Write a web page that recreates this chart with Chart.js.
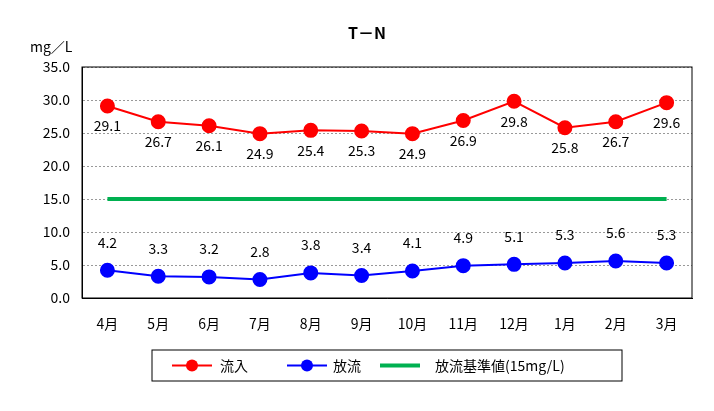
<!DOCTYPE html>
<html><head><meta charset="utf-8">
<script src="https://cdn.jsdelivr.net/npm/chart.js@4"></script>
<style>body{margin:0;background:#fff}#wrap{width:714px;height:411px}</style>
</head><body><div id="wrap"><canvas id="c"></canvas></div>
<script>
const months = ["4月","5月","6月","7月","8月","9月","10月","11月","12月","1月","2月","3月"];
const inflow = [29.1,26.7,26.1,24.9,25.4,25.3,24.9,26.9,29.8,25.8,26.7,29.6];
const outflow = [4.2,3.3,3.2,2.8,3.8,3.4,4.1,4.9,5.1,5.3,5.6,5.3];
const standard = months.map(() => 15);
const legendNames = ["流入","放流","放流基準値(15mg/L)"];
const FONT = "'Noto Sans CJK JP', sans-serif";

const decor = {
  id: "decor",
  afterDatasetsDraw(chart) {
    const ctx = chart.ctx;
    ctx.save();
    ctx.font = "14px " + FONT;
    ctx.fillStyle = "#000";
    ctx.textAlign = "center";
    ctx.textBaseline = "middle";
    chart.getDatasetMeta(0).data.forEach((p, i) => ctx.fillText(inflow[i].toFixed(1), p.x, p.y + 20));
    chart.getDatasetMeta(1).data.forEach((p, i) => ctx.fillText(outflow[i].toFixed(1), p.x, p.y - 28));
    // title and unit
    ctx.font = "bold 16px " + FONT;
    ctx.fillText("T－N", 367, 33);
    ctx.font = "14px " + FONT;
    ctx.textAlign = "left";
    ctx.fillText("mg／L", 30, 47);
    // legend
    const lx = 152, ly = 350, lw = 470, lh = 31;
    ctx.strokeStyle = "#000";
    ctx.lineWidth = 1;
    ctx.strokeRect(lx, ly, lw, lh);
    const items = [
      { x: 172, color: "#ff0000", dot: true, tx: 220 },
      { x: 287, color: "#0000ff", dot: true, tx: 333 },
      { x: 380, color: "#00b050", dot: false, tx: 435 }
    ];
    items.forEach((it, i) => {
      const cy = ly + lh / 2;
      ctx.strokeStyle = it.color;
      ctx.lineWidth = it.dot ? 2 : 4;
      ctx.beginPath(); ctx.moveTo(it.x, cy); ctx.lineTo(it.x + 40, cy); ctx.stroke();
      if (it.dot) {
        ctx.fillStyle = it.color;
        ctx.beginPath(); ctx.arc(it.x + 20, cy, 6, 0, Math.PI * 2); ctx.fill();
      }
      ctx.fillStyle = "#000";
      ctx.fillText(legendNames[i], it.tx, cy);
    });
    ctx.restore();
  }
};

new Chart(document.getElementById("c"), {
  type: "line",
  data: {
    labels: months,
    datasets: [
      { data: inflow, borderColor: "#ff0000", backgroundColor: "#ff0000", borderWidth: 2, pointRadius: 6.5, pointHoverRadius: 6.5 },
      { data: outflow, borderColor: "#0000ff", backgroundColor: "#0000ff", borderWidth: 2, pointRadius: 6.5, pointHoverRadius: 6.5 },
      { data: standard, borderColor: "#00b050", borderWidth: 4, pointRadius: 0 }
    ]
  },
  options: {
    responsive: true,
    maintainAspectRatio: false,
    animation: false,
    layout: { padding: { top: 67, right: 22, bottom: 73, left: 0 } },
    plugins: { legend: { display: false }, tooltip: { enabled: false } },
    scales: {
      x: {
        offset: true,
        grid: { display: false, drawTicks: false },
        border: { color: "#000" },
        ticks: { color: "#000", font: { size: 14, family: FONT }, padding: 17 },
        afterFit: s => { s.height = 40; }
      },
      y: {
        min: 0, max: 35,
        ticks: { stepSize: 5, color: "#000", font: { size: 14, family: FONT }, callback: v => v.toFixed(1), padding: 12 },
        grid: { color: "#999", drawTicks: false },
        border: { color: "#000", dash: [2, 2] },
        afterFit: s => { s.width = 82; }
      }
    }
  },
  plugins: [decor, {
    id: "frame",
    afterDraw(chart) {
      const a = chart.chartArea, ctx = chart.ctx;
      ctx.save(); ctx.strokeStyle = "#000"; ctx.lineWidth = 1;
      ctx.strokeRect(a.left, a.top, a.right - a.left, a.bottom - a.top);
      ctx.restore();
    }
  }]
});
</script></body></html>
